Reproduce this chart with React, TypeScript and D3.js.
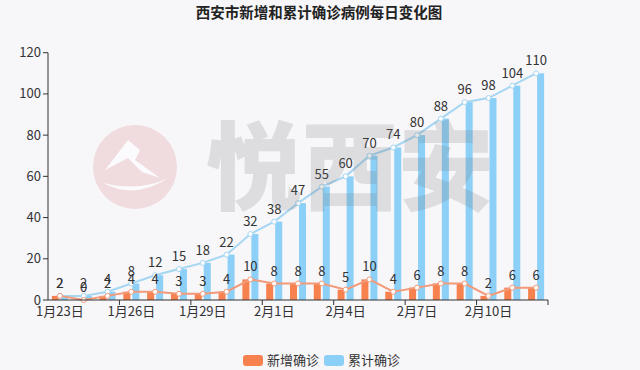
import React from "react";
import * as d3 from "d3";

const dates = ["1月23日","1月24日","1月25日","1月26日","1月27日","1月28日","1月29日","1月30日","1月31日","2月1日","2月2日","2月3日","2月4日","2月5日","2月6日","2月7日","2月8日","2月9日","2月10日","2月11日","2月12日"];
const newCases = [2,0,2,4,4,3,3,4,10,8,8,8,5,10,4,6,8,8,2,6,6];
const totalCases = [2,2,4,8,12,15,18,22,32,38,47,55,60,70,74,80,88,96,98,104,110];
const yTicks = [0,20,40,60,80,100,120];
const seriesNames = ["新增确诊","累计确诊"];
const title = "西安市新增和累计确诊病例每日变化图";
const watermark = "悦西安";

const W = 640, H = 370;
const FONT = "'Noto Sans CJK SC', 'Noto Sans', sans-serif";
const ORANGE = "#f7824f";
const BLUE = "#8ccff7";
const ORANGE_LINE = "#f29a7a";
const BLUE_LINE = "#a5d6f2";

export default function App() {
  const x = d3.scaleBand<string>().domain(dates).range([48, 548]).padding(0);
  const y = d3.scaleLinear().domain([0, 120]).range([300, 52.7]);
  const bw = x.bandwidth();
  const cx = (d: string) => (x(d) as number) + bw / 2;
  const barW = 7;

  const line = d3.line<number>().x((_, i) => cx(dates[i])).y((v) => y(v));

  const tickIdx = dates.map((_, i) => i).filter((i) => i % 3 === 2);
  const labelIdx = dates.map((_, i) => i).filter((i) => i % 3 === 0);

  return (
    <svg width={W} height={H} style={{ position: "absolute", left: 0, top: 0, background: "#f7f6f9" }} fontFamily={FONT}>
      <rect x={0} y={0} width={W} height={H} fill="#f7f6f9" />
      <text x={319} y={18} textAnchor="middle" fontSize={14.5} fontWeight="bold" fill="#222">{title}</text>

      {/* y axis */}
      <line x1={48} x2={48} y1={y(120)} y2={300} stroke="#333" strokeWidth={1} />
      {yTicks.map((t) => (
        <g key={t}>
          <line x1={43} x2={48} y1={y(t)} y2={y(t)} stroke="#333" />
          <text x={41} y={y(t)} dy="0.35em" textAnchor="end" fontSize={13} fill="#333">{t}</text>
        </g>
      ))}

      {/* bars */}
      {dates.map((d, i) => (
        <g key={d}>
          <rect x={cx(d) - barW - 1} y={y(newCases[i])} width={barW} height={300 - y(newCases[i])} fill={ORANGE} />
          <rect x={cx(d) + 1} y={y(totalCases[i])} width={barW} height={300 - y(totalCases[i])} fill={BLUE} />
        </g>
      ))}

      {/* lines */}
      <path d={line(totalCases) || ""} fill="none" stroke={BLUE_LINE} strokeWidth={2} />
      <path d={line(newCases) || ""} fill="none" stroke={ORANGE_LINE} strokeWidth={2} />
      {dates.map((d, i) => (
        <g key={"p" + d}>
          <circle cx={cx(d)} cy={y(totalCases[i])} r={2.5} fill="#fff" stroke={BLUE_LINE} strokeWidth={1} />
          <circle cx={cx(d)} cy={y(newCases[i])} r={2.5} fill="#fff" stroke={ORANGE_LINE} strokeWidth={1} />
        </g>
      ))}

      {/* x axis */}
      <line x1={48} x2={548} y1={300} y2={300} stroke="#333" />
      {tickIdx.map((i) => (
        <line key={"t" + i} x1={(x(dates[i]) as number) + bw} x2={(x(dates[i]) as number) + bw} y1={300} y2={305} stroke="#333" />
      ))}
      {labelIdx.map((i) => (
        <text key={"l" + i} x={cx(dates[i])} y={316} textAnchor="middle" fontSize={13} fill="#333">{dates[i]}</text>
      ))}

      {/* labels */}
      {dates.map((d, i) => (
        <g key={"lb" + d}>
          <text x={cx(d)} y={y(totalCases[i]) - 8} textAnchor="middle" fontSize={13} fill="#333">{totalCases[i]}</text>
          <text x={cx(d)} y={y(newCases[i]) - 8} textAnchor="middle" fontSize={13} fill="#333">{newCases[i]}</text>
        </g>
      ))}

      {/* watermark */}
      <g opacity={0.55}>
        <circle cx={135} cy={167} r={42} fill="#ecc6c8" />
        <path d="M105,170 L128,140 L140,150 L135,160 L160,178 L142,172 L128,158 Z" fill="#fff" />
        <path d="M103,183 Q135,200 168,178 Q140,192 103,183 Z" fill="#fff" />
      </g>
      <text x={350} y={202} textAnchor="middle" fontSize={96} fontWeight={900} fill="#777" opacity={0.2}>{watermark}</text>

      {/* legend */}
      <rect x={243} y={355} width={20} height={11} rx={3} fill={ORANGE} />
      <text x={267} y={365} fontSize={13} fill="#333">{seriesNames[0]}</text>
      <rect x={324} y={355} width={20} height={11} rx={3} fill={BLUE} />
      <text x={348} y={365} fontSize={13} fill="#333">{seriesNames[1]}</text>
    </svg>
  );
}
